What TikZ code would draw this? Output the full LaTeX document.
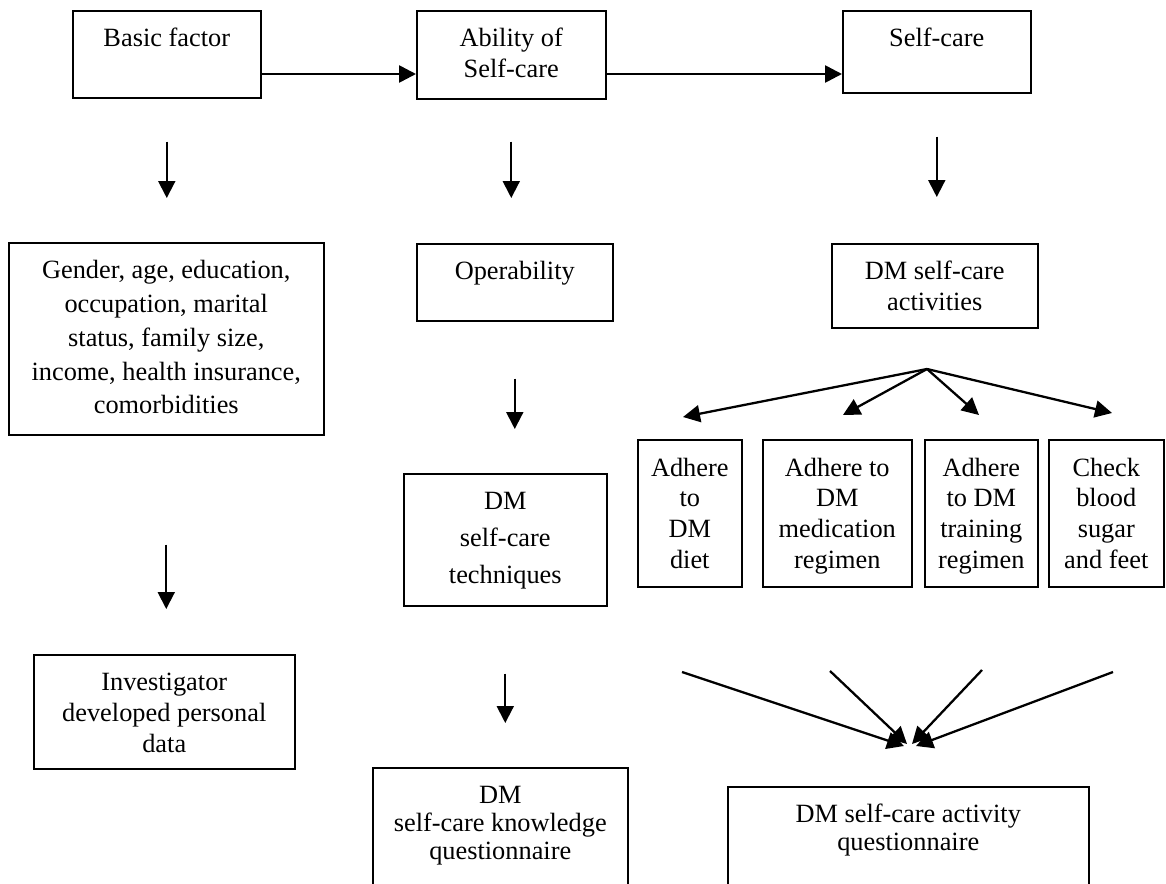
\documentclass[tikz,border=0pt]{standalone}
\usepackage{fontspec}
\setmainfont{Liberation Serif}
\usetikzlibrary{arrows.meta}
\tikzstyle{block} = [rectangle, draw=black, line width=0.9pt, align=center, anchor=north west, inner sep=0pt, text height=0.72cm, font=\fontsize{15}{17.6}\selectfont]
\tikzstyle{arrow} = [line width=1.1pt, -{Triangle[length=0.34cm, width=0.34cm]}]
\tikzstyle{thickarrow} = [arrow, line width=1.5pt]
\tikzstyle{fanarrow} = [arrow, line width=1.3pt]

\begin{document}
\begin{tikzpicture}[x=0.02cm, y=-0.02cm]
    \useasboundingbox (0,0) rectangle (1166,883);
    \clip (0,0) rectangle (1166,883);
    % top row
    \node (basic) [block, minimum width=3.76cm, text depth=1.02cm] at (72,10) {Basic factor};
    \node (ability) [block, minimum width=3.78cm, text height=1.34cm, text depth=0.42cm] at (416,10) {Ability of\\Self-care};
    \node (selfcare) [block, minimum width=3.76cm, text depth=0.92cm] at (842,10) {Self-care};
    % second row
    \node (gender) [block, minimum width=6.30cm, text height=3.42cm, text depth=0.42cm, font=\fontsize{15}{19.2}\selectfont] at (8,242) {Gender, age, education,\\occupation, marital\\status, family size,\\income, health insurance,\\comorbidities};
    \node (operab) [block, minimum width=3.92cm, text depth=0.82cm] at (416,243) {Operability};
    \node (activ) [block, minimum width=4.12cm, text height=1.34cm, text depth=0.34cm] at (831,243) {DM self-care\\activities};
    % activities
    \node (diet) [block, minimum width=2.08cm, text height=2.58cm, text depth=0.36cm] at (637,439) {Adhere\\to\\DM\\diet};
    \node (medic) [block, minimum width=2.98cm, text height=2.58cm, text depth=0.36cm] at (762,439) {Adhere to\\DM\\medication\\regimen};
    \node (train) [block, minimum width=2.26cm, text height=2.58cm, text depth=0.36cm] at (924,439) {Adhere\\to DM\\training\\regimen};
    \node (check) [block, minimum width=2.30cm, text height=2.58cm, text depth=0.36cm] at (1048,439) {Check\\blood\\sugar\\and feet};
    \node (techn) [block, minimum width=4.06cm, text height=2.20cm, text depth=0.44cm, font=\fontsize{15}{21}\selectfont] at (403,473) {DM\\self-care\\techniques};
    % tools
    \node (invest) [block, minimum width=5.22cm, text height=1.96cm, text depth=0.32cm] at (33,654) {Investigator\\developed personal\\data};
    \node (knowq) [block, minimum width=5.10cm, text height=1.84cm, text depth=0.82cm, font=\fontsize{15}{16}\selectfont] at (372,767) {DM\\self-care knowledge\\questionnaire};
    \node (activq) [block, minimum width=7.22cm, text height=1.28cm, text depth=1.00cm, font=\fontsize{15}{16}\selectfont] at (727,786) {DM self-care activity\\questionnaire};

    \coordinate (fan) at (927,369);
    \coordinate (t1) at (683,417);
    \coordinate (t2) at (843,415);
    \coordinate (t3) at (979,415);
    \coordinate (t4) at (1112,413);
    \coordinate (s1) at (682,672);
    \coordinate (s2) at (830,671);
    \coordinate (s3) at (982,670);
    \coordinate (s4) at (1113,672);
    \coordinate (e1) at (904,746);
    \coordinate (e2) at (907,744);
    \coordinate (e3) at (912,744);
    \coordinate (e4) at (916,746);

    \draw [thickarrow] (basic.east |- 0,74) -- (ability.west |- 0,74);
    \draw [thickarrow] (ability.east |- 0,74) -- (selfcare.west |- 0,74);
    \draw [arrow, shorten <=0.86cm, shorten >=0.88cm] (basic.south) -- (basic.south |- gender.north);
    \draw [arrow, shorten <=0.84cm, shorten >=0.90cm] (ability.south) -- (ability.south |- operab.north);
    \draw [arrow, shorten <=0.86cm, shorten >=0.92cm] (selfcare.south) -- (selfcare.south |- activ.north);
    \draw [arrow, shorten <=2.18cm, shorten >=0.90cm] (gender.south) -- (gender.south |- invest.north);
    \draw [arrow, shorten <=1.14cm, shorten >=0.88cm] (operab.south) -- (operab.south |- techn.north);
    \draw [arrow, shorten <=1.34cm, shorten >=0.88cm] (techn.south) -- (techn.south |- knowq.north);
    \foreach \tip in {t1,t2,t3,t4}
        \draw [fanarrow] (fan) -- (\tip);
    \draw [fanarrow] (s1) -- (e1);
    \draw [fanarrow] (s2) -- (e2);
    \draw [fanarrow] (s3) -- (e3);
    \draw [fanarrow] (s4) -- (e4);
\end{tikzpicture}
\end{document}
